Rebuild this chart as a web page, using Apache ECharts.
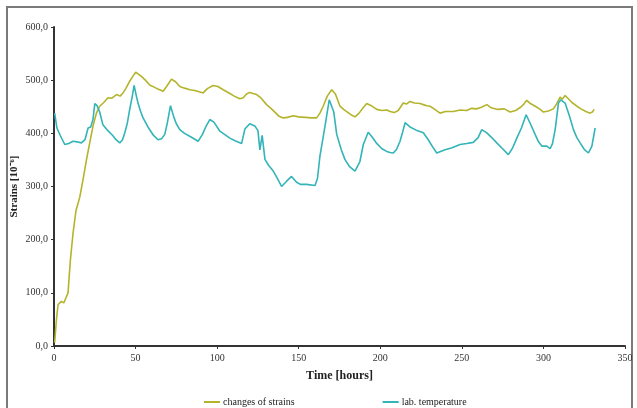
<!DOCTYPE html>
<html>
<head>
<meta charset="utf-8">
<script src="https://cdn.jsdelivr.net/npm/echarts@6/dist/echarts.min.js"></script>
<style>
    html, body {margin: 0; padding: 0; background: #fff;}
    #chart {width: 637px; height: 408px;}
</style>
</head>
<body>
<div id="chart"></div>
<script>
// time [hours] / value pairs
const strain_time = [0.4, 1.5, 2.5, 4.5, 6, 7.2, 8.6, 10, 11.7, 13.5, 15.8, 17.8, 20, 21.9, 24, 26, 28, 30.5, 33.1, 35.5,
    38.3, 40.5, 42.3, 44, 46.4, 48.5, 50.1, 51.5, 53.6, 56, 58.7, 62, 64, 66.9, 69, 72, 74.5, 77.1, 80, 83.3, 87, 91.4,
    94, 97.5, 100.5, 103.7, 107.8, 110.5, 113.9, 116, 118, 120, 122, 124.2, 127, 130.3, 133, 136, 138, 140.5, 143,
    146.6, 150, 154, 158, 161, 163, 165, 167.5, 170.2, 172.5, 175.3, 177.5, 179.4, 182, 184.5, 187, 189.5, 191.7,
    194.5, 197.8, 201, 204, 206, 208.5, 211, 214.1, 216, 218.2, 221, 224.4, 226.4, 228.5, 230.5, 233, 236.6, 240,
    244.8, 249, 253, 256, 259, 262, 265.3, 268, 272, 276, 279.6, 283, 286, 288, 289.8, 292, 295, 298, 300, 303,
    306.1, 308, 310.2, 311.5, 313.3, 315, 317.5, 320.5, 323, 326, 328.6, 330, 331.1];
const strain_value = [6, 50, 78, 84, 81, 80, 100, 160, 213, 255, 280, 313, 352, 382, 415, 438, 451, 458, 467, 466,
    473, 470, 476, 484, 498, 508, 515, 512, 507, 500, 491, 486, 483, 479, 488, 502, 497, 488, 485, 482, 480, 476,
    484, 490, 488, 482, 475, 470, 465, 467, 474, 477, 475, 473, 466, 454, 447, 438, 432, 429, 430, 433, 431, 430,
    429, 429, 438, 451, 470, 482, 474, 451, 445, 441, 435, 431, 438, 448, 456, 452, 445, 443, 444, 441, 439, 443,
    457, 455, 460, 457, 456, 454, 452, 451, 446, 438, 441, 441, 444, 443, 447, 446, 449, 454, 448, 445, 446, 440,
    443, 449, 455, 462, 456, 451, 445, 440, 442, 446, 455, 468, 464, 471, 466, 458, 451, 446, 441, 438, 440, 445];

const temp_time = [0.4, 1.8, 4, 6.6, 9, 11.7, 14, 16.8, 19, 20.9, 22.5, 23.9, 25, 26.4, 28, 30, 33, 36, 38, 40.3,
    42, 43.4, 45, 46.4, 48, 49.1, 50.5, 51.5, 53, 54.6, 58, 61, 63.8, 66, 67.9, 69.5, 71.4, 73.5, 75, 77.1, 80, 84,
    88.3, 91, 93, 95.5, 98, 101.7, 104.5, 107.8, 111, 115, 117, 120, 123.1, 125, 126.2, 127.6, 129.3, 131.5, 134.4,
    137, 139.5, 142.6, 145.6, 148.7, 151, 154.8, 160, 161.5, 163, 166.1, 168.7, 169.8, 171.5, 173.3, 176, 178.3, 181,
    184.5, 187.5, 189.6, 192.6, 195, 197.8, 201, 203.9, 206, 208, 210, 212.1, 213.5, 215.2, 218.2, 222, 226.4, 229.4,
    232, 234.6, 239.7, 244, 248.9, 253, 257, 260, 262.2, 265.3, 268, 271.4, 275, 278.5, 281, 283.7, 286.5, 289.4,
    292, 294.9, 297, 299, 302.1, 304.1, 305.5, 307.2, 309.2, 310.7, 313.3, 316, 318.4, 320.5, 322.5, 325, 327.6,
    329.7, 331.7];
const temp_value = [438, 410, 395, 379, 381, 385, 384, 382, 388, 410, 412, 426, 456, 452, 440, 416, 405, 396, 388, 382,
    388, 401, 420, 445, 470, 490, 470, 457, 442, 429, 410, 396, 388, 390, 398, 420, 452, 430, 418, 407, 400, 393,
    385, 398, 412, 426, 421, 404, 398, 391, 386, 381, 408, 418, 414, 405, 369, 396, 351, 340, 329, 315, 300, 310,
    319, 308, 304, 304, 302, 315, 357, 413, 463, 462, 440, 398, 370, 351, 338, 329, 347, 379, 402, 393, 381, 371,
    366, 364, 363, 370, 385, 400, 420, 412, 406, 401, 388, 375, 363, 369, 373, 379, 381, 383, 392, 407, 401, 393,
    382, 371, 360, 372, 391, 410, 435, 418, 398, 384, 376, 376, 371, 380, 407, 457, 463, 457, 432, 407, 392, 382,
    370, 363, 376, 410];

const x_ticks = [0, 350, 50];
const y_ticks = [0, 600, 100];

function pairs(xs, ys) {
    return xs.map((x, i) => [x, ys[i]]);
}

function gen_line_series(name, data, color) {
    return {
        name: name,
        type: 'line',
        data: data,
        showSymbol: false,
        symbol: 'none',
        itemStyle: {color: color},
        lineStyle: {color: color, width: 1.6},
        animation: false
    };
}

let chart = echarts.init(document.getElementById('chart'), null, {renderer: 'canvas'});

let axis_text = {fontFamily: 'Liberation Serif', fontSize: 10, color: '#333'};

let option = {
    backgroundColor: '#fff',
    animation: false,
    grid: {left: 54, right: 12, top: 27, bottom: 62, containLabel: false, outerBoundsMode: 'none'},
    graphic: [{
        type: 'rect',
        shape: {x: 7, y: 7, width: 625, height: 430},
        style: {fill: 'none', stroke: '#7a7a7a', lineWidth: 2},
        silent: true
    }],
    legend: {
        left: 199,
        top: 392,
        itemGap: 88,
        itemWidth: 16,
        itemHeight: 2,
        icon: 'rect',
        textStyle: {fontFamily: 'Liberation Serif', fontSize: 10, color: '#222', padding: [0, 0, 0, -2]},
        data: ['changes of strains', 'lab. temperature']
    },
    xAxis: {
        type: 'value',
        min: x_ticks[0],
        max: x_ticks[1],
        interval: x_ticks[2],
        name: 'Time [hours]',
        nameLocation: 'middle',
        nameGap: 24,
        nameMoveOverlap: false,
        nameTextStyle: {fontFamily: 'Liberation Serif', fontSize: 12, fontWeight: 'bold', color: '#222'},
        axisLine: {lineStyle: {color: '#333', width: 2}},
        axisTick: {show: true, length: 3, lineStyle: {color: '#333'}},
        axisLabel: Object.assign({margin: 7}, axis_text),
        splitLine: {show: false}
    },
    yAxis: {
        type: 'value',
        min: y_ticks[0],
        max: y_ticks[1],
        interval: y_ticks[2],
        name: 'Strains [10⁻⁶]',
        nameLocation: 'middle',
        nameGap: 34,
        nameMoveOverlap: false,
        nameTextStyle: {fontFamily: 'Liberation Serif', fontSize: 11, fontWeight: 'bold', color: '#222'},
        axisLine: {show: true, lineStyle: {color: '#333', width: 2}},
        axisTick: {show: true, length: 3, lineStyle: {color: '#333'}},
        axisLabel: Object.assign({
            margin: 6,
            formatter: v => v.toFixed(1).replace('.', ',')
        }, axis_text),
        splitLine: {show: false}
    },
    series: [
        gen_line_series('changes of strains', pairs(strain_time, strain_value), '#b4b42c'),
        gen_line_series('lab. temperature', pairs(temp_time, temp_value), '#32b4b8')
    ]
};

chart.setOption(option);
</script>
</body>
</html>
